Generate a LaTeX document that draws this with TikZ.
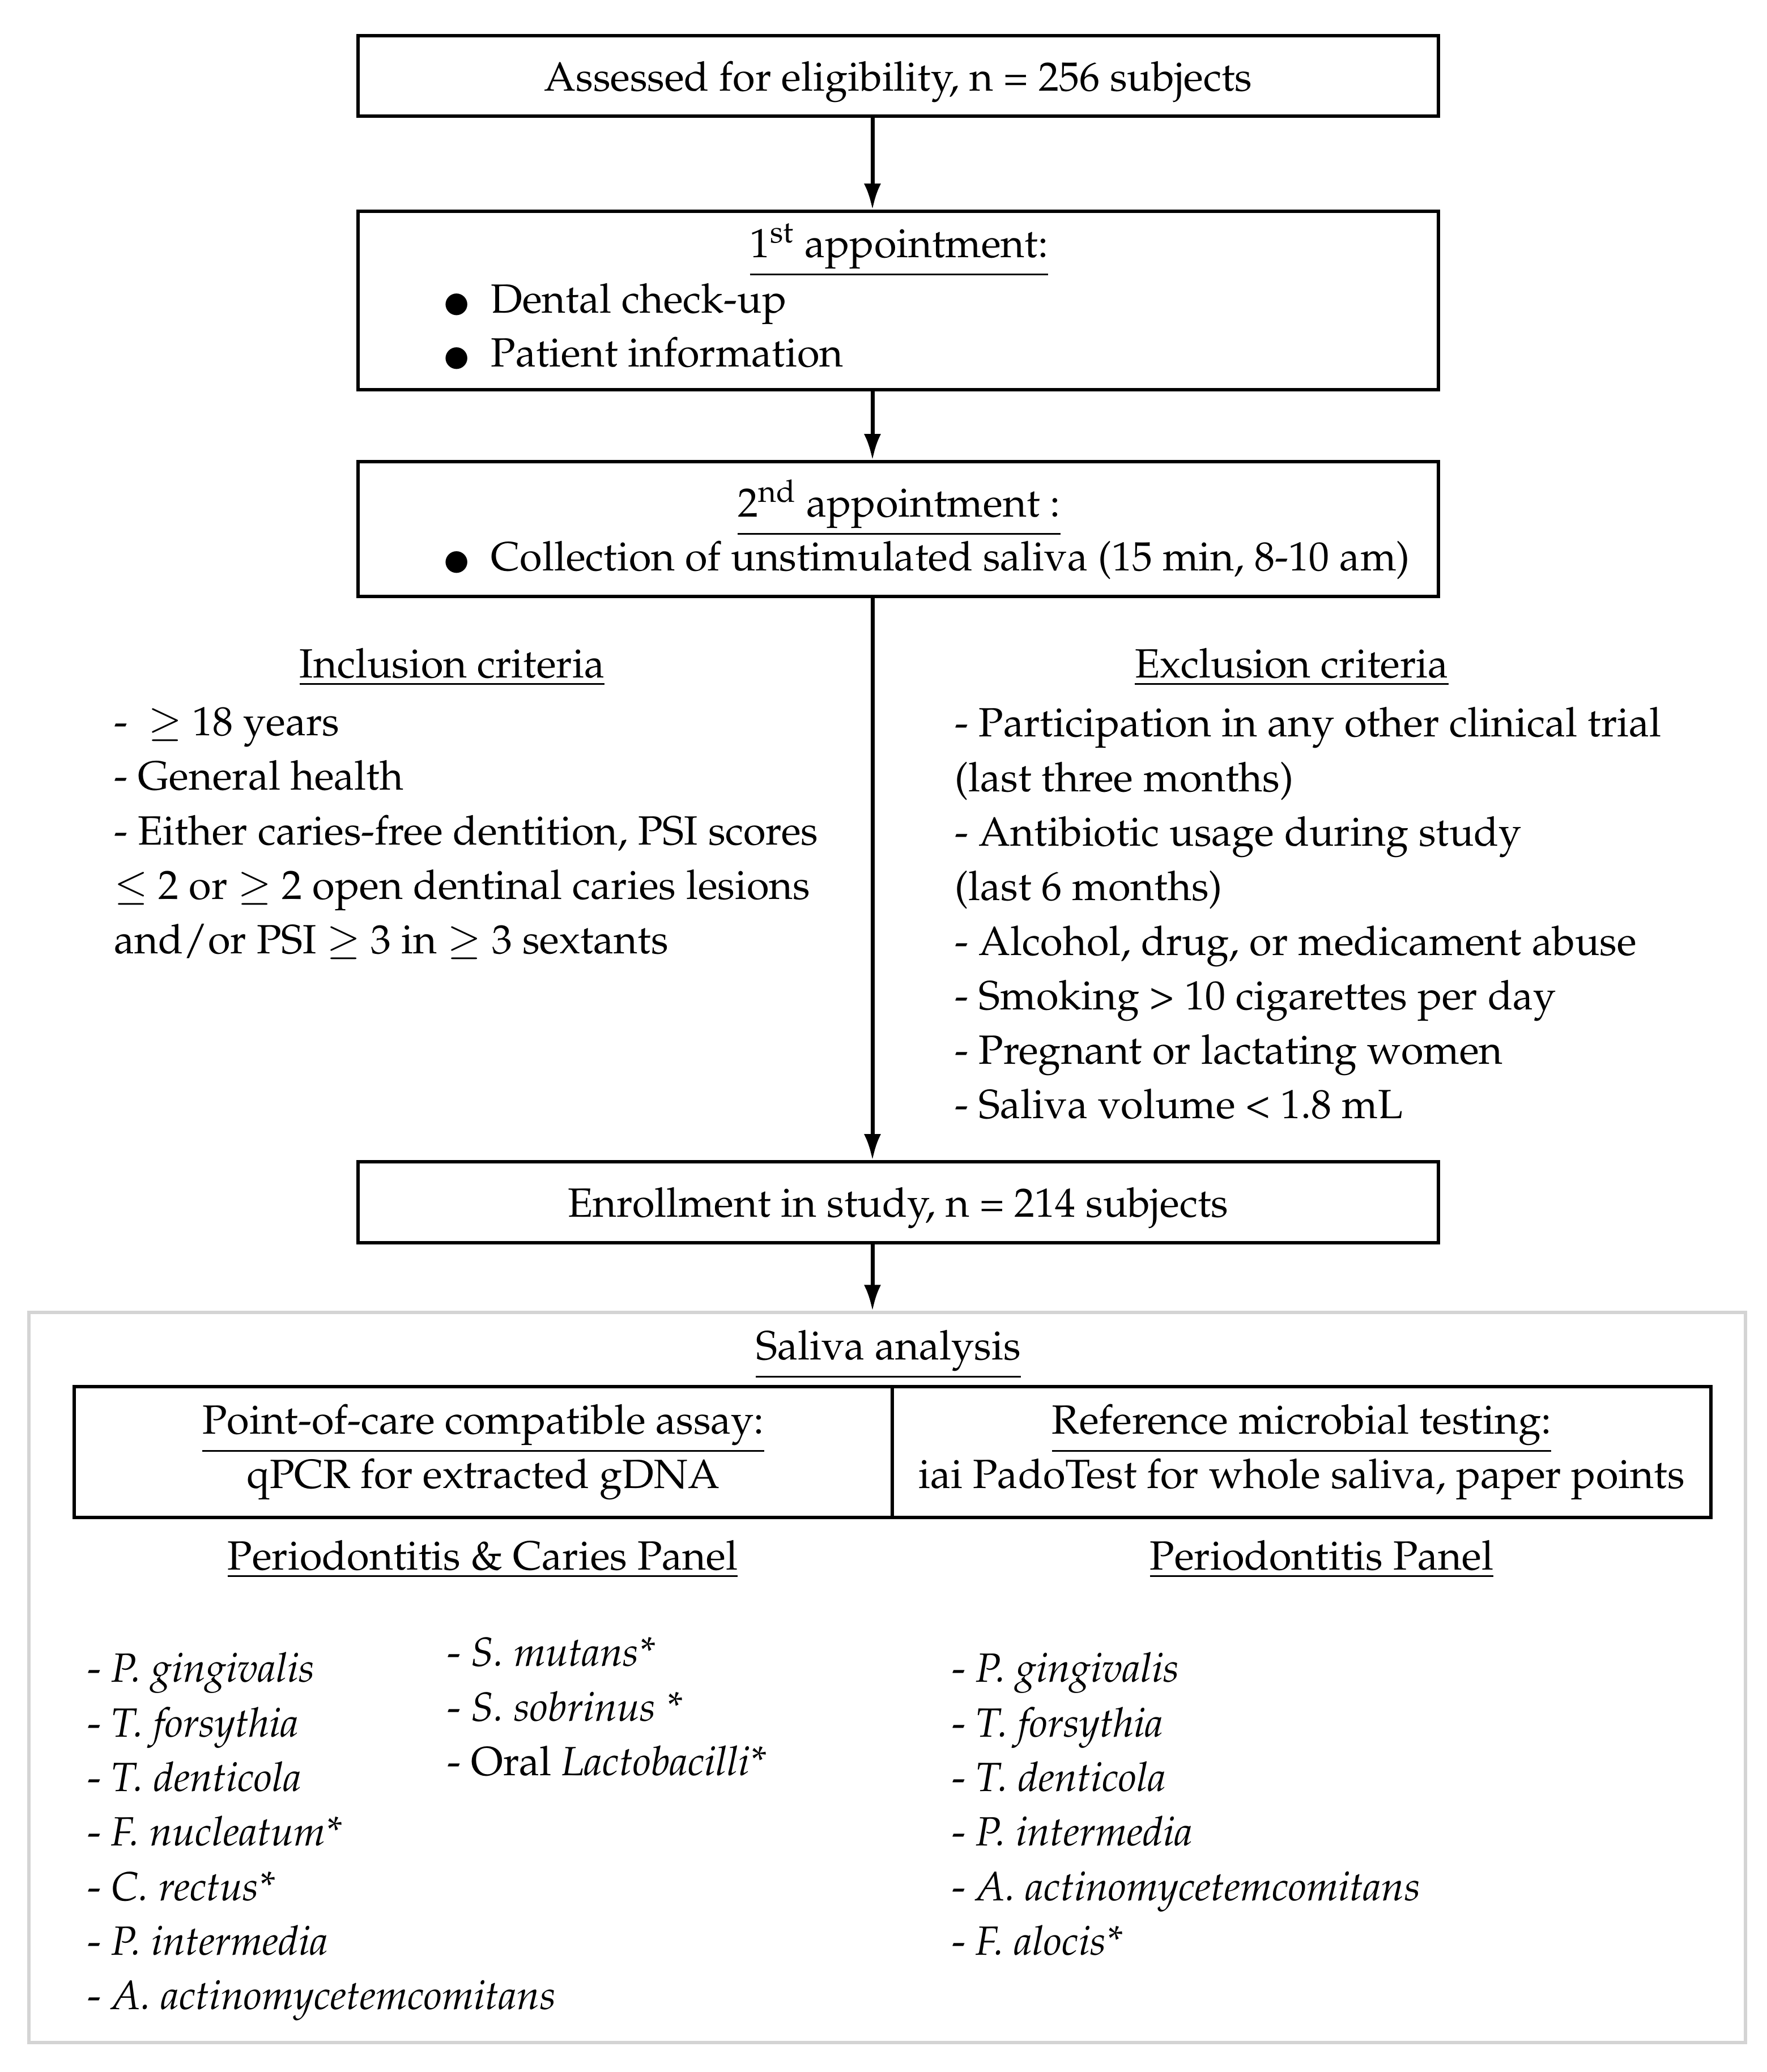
\documentclass[tikz,border=0pt]{standalone}
\usepackage[T1]{fontenc}
\usepackage{mathpazo}
\usetikzlibrary{arrows.meta, positioning}

\definecolor{framegray}{RGB}{212,212,212}
\newcommand{\dotitem}{\makebox[0.86cm][l]{\raisebox{-0.3ex}{\fontsize{27}{27}\selectfont$\bullet$}}}

\tikzset{
  box/.style={draw, line width=1.6pt, minimum width=19.07cm, inner sep=0pt},
  txt/.style={inner sep=0pt, align=left},
  arr/.style={line width=2pt, -{Latex[length=0.46cm, width=0.3cm]}}
}

\begin{document}
\begin{tikzpicture}[font=\fontsize{20.5}{27.4}\selectfont]
    \useasboundingbox (0,0) rectangle (31.18,-36.58);

    \coordinate (ax) at (15.40,0);

    % flow boxes
    \node[box, minimum height=1.42cm, text depth=0pt] (assess) at (15.855,-1.34) {Assessed for eligibility, n = 256 subjects};
    \node[box, minimum height=3.15cm] (appt1) at (15.855,-5.305) {};
    \node[box, minimum height=2.38cm] (appt2) at (15.855,-9.34) {};
    \node[box, minimum height=1.43cm, text depth=0pt] (enrol) at (15.855,-21.225) {Enrollment in study, n = 214 subjects};

    \node[anchor=mid] (appt1title) at (15.87,-4.46) {\underline{1\textsuperscript{st} appointment:}};
    \node[txt, anchor=mid west] (checkup) at (7.80,-5.44) {\dotitem Dental check-up};
    \node[txt, anchor=mid west] (info) at (7.80,-6.39) {\dotitem Patient information};

    \node[anchor=mid] (appt2title) at (15.87,-9.04) {\underline{2\textsuperscript{nd} appointment :}};
    \node[txt, anchor=mid west] (collect) at (7.80,-9.99) {\dotitem Collection of unstimulated saliva (15 min, 8-10 am)};

    % criteria
    \node[anchor=mid] (incltitle) at (7.98,-11.88) {\underline{Inclusion criteria}};
    \node[txt, anchor=north west] (incl) at (2.01,-12.48) {-\ \ $\geq$ 18 years\\
      - General health\\
      - Either caries-free dentition, PSI scores\\
      $\leq$ 2 or $\geq$ 2 open dentinal caries lesions\\
      and/or PSI $\geq$ 3 in $\geq$ 3 sextants};

    \node[anchor=mid] (excltitle) at (22.80,-11.88) {\underline{Exclusion criteria}};
    \node[txt, anchor=north west] (excl) at (16.85,-12.48) {- Participation in any other clinical trial\\
      (last three months)\\
      - Antibiotic usage during study\\
      (last 6 months)\\
      - Alcohol, drug, or medicament abuse\\
      - Smoking > 10 cigarettes per day\\
      - Pregnant or lactating women\\
      - Saliva volume < 1.8 mL};

    % saliva analysis
    \node[draw=framegray, line width=1.5pt, minimum width=30.3cm, minimum height=12.89cm, inner sep=0pt] (analysis) at (15.66,-29.615) {};
    \node[anchor=mid] (saltitle) at (15.68,-23.92) {\underline{Saliva analysis}};

    \node[box, minimum width=14.44cm, minimum height=2.31cm, align=center] (poc) at (8.53,-25.635) {\underline{Point-of-care compatible assay:}\\qPCR for extracted gDNA};
    \node[box, minimum width=14.45cm, minimum height=2.31cm, align=center] (reftest) at (22.975,-25.635) {\underline{Reference microbial testing:}\\iai PadoTest for whole saliva, paper points};

    \node[anchor=mid] (pcpanel) at (8.52,-27.63) {\underline{Periodontitis \& Caries Panel}};
    \node[anchor=mid] (ppanel) at (23.33,-27.63) {\underline{Periodontitis Panel}};

    \node[txt, anchor=north west] (pclist) at (1.54,-29.17) {- \textit{P. gingivalis}\\
      - \textit{T. forsythia}\\
      - \textit{T. denticola}\\
      - \textit{F. nucleatum*}\\
      - \textit{C. rectus*}\\
      - \textit{P. intermedia}\\
      - \textit{A. actinomycetemcomitans}};
    \node[txt, anchor=north west] (carlist) at (7.89,-28.91) {- \textit{S. mutans*}\\
      - \textit{S. sobrinus *}\\
      - Oral \textit{Lactobacilli*}};
    \node[txt, anchor=north west] (plist) at (16.80,-29.17) {- \textit{P. gingivalis}\\
      - \textit{T. forsythia}\\
      - \textit{T. denticola}\\
      - \textit{P. intermedia}\\
      - \textit{A. actinomycetemcomitans}\\
      - \textit{F. alocis*}};

    % arrows
    \draw[arr] (assess.south -| ax) -- (appt1.north -| ax);
    \draw[arr] (appt1.south -| ax) -- (appt2.north -| ax);
    \draw[arr] (appt2.south -| ax) -- (enrol.north -| ax);
    \draw[arr] (enrol.south -| ax) -- (analysis.north -| ax);

  \end{tikzpicture}
\end{document}
